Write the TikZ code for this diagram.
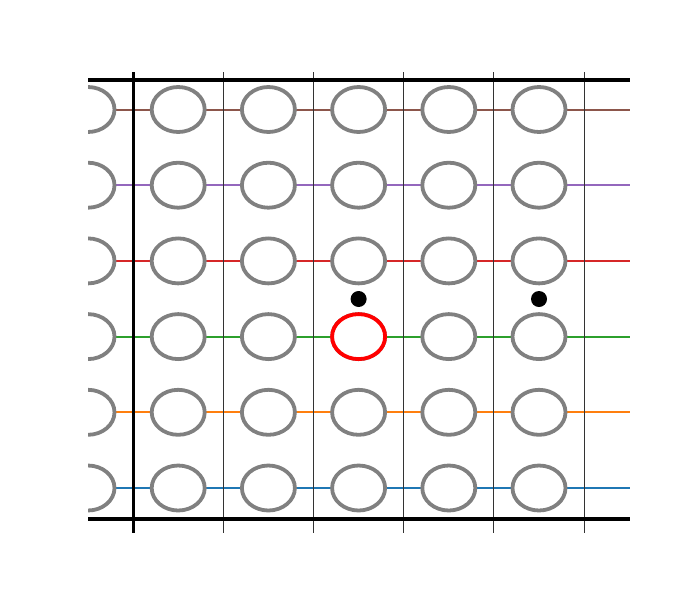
\documentclass[tikz,border=0pt]{standalone}
\usetikzlibrary{shapes.geometric}
\definecolor{tabblue}{HTML}{1F77B4}
\definecolor{taborange}{HTML}{FF7F0E}
\definecolor{tabgreen}{HTML}{2CA02C}
\definecolor{tabred}{HTML}{D62728}
\definecolor{tabpurple}{HTML}{9467BD}
\definecolor{tabbrown}{HTML}{8C564B}
\definecolor{ringgrey}{HTML}{808080}
\tikzset{
  ring/.style={ellipse, draw=ringgrey, line width=3.8pt, fill=white, minimum width=53pt, minimum height=45pt, inner sep=0pt},
  redring/.style={ring, draw=red},
  rowline/.style={line width=2pt},
  gridline/.style={line width=0.7pt, draw=black!80},
  frame/.style={line width=4pt, draw=black},
  dot/.style={circle, fill=black, minimum size=16pt, inner sep=0pt}
}
\begin{document}
\begin{tikzpicture}[x=1pt,y=-1pt]
\useasboundingbox (0,0) rectangle (700,600);
% row lines
\foreach \r/\rowcol in {0/tabbrown,1/tabpurple,2/tabred,3/tabgreen,4/taborange,5/tabblue}{
  \coordinate (L\r) at (88,109.5+75.7*\r);
  \coordinate (R\r) at (630,109.5+75.7*\r);
  \draw[rowline, draw=\rowcol] (L\r) -- (R\r);
}
% thin vertical grid lines
\foreach \k in {1,...,5}{
  \coordinate (T\k) at (133+90.2*\k,72);
  \coordinate (B\k) at (133+90.2*\k,533);
  \draw[gridline] (T\k) -- (B\k);
}
% rings
\begin{scope}
\clip (88,0) rectangle (630,600);
\foreach \r in {0,...,5}{
  \foreach \k in {0,...,5}{
    \node[ring] (c\r\k) at (88+90.2*\k,109.5+75.7*\r) {};
  }
}
\end{scope}
\node[redring] (red) at (c33) {};
\node[dot] (d1) at (358.6,299) {};
\node[dot] (d2) at (539,299) {};
% frame
\coordinate (ftl) at (88,79.5);
\coordinate (ftr) at (630,79.5);
\coordinate (fbl) at (88,518.5);
\coordinate (fbr) at (630,518.5);
\coordinate (vt) at (133,72);
\coordinate (vb) at (133,533);
\draw[frame] (ftl) -- (ftr);
\draw[frame] (fbl) -- (fbr);
\draw[frame, line width=3pt] (vt) -- (vb);
\end{tikzpicture}
\end{document}
